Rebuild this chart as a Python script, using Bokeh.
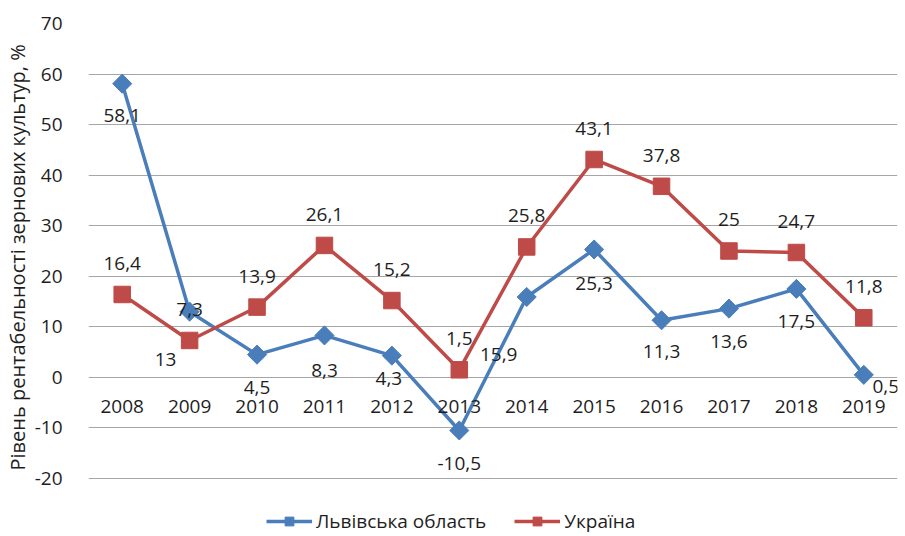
import numpy as np
from bokeh.plotting import figure
from bokeh.models import (ColumnDataSource, Legend, LegendItem, FixedTicker,
                          LabelSet, Range1d, Title)
from bokeh.core.properties import value
from bokeh.embed import file_html
from bokeh.resources import INLINE

years = ["2008", "2009", "2010", "2011", "2012", "2013",
         "2014", "2015", "2016", "2017", "2018", "2019"]
lviv = [58.1, 13, 4.5, 8.3, 4.3, -10.5, 15.9, 25.3, 11.3, 13.6, 17.5, 0.5]
ukraine = [16.4, 7.3, 13.9, 26.1, 15.2, 1.5, 25.8, 43.1, 37.8, 25, 24.7, 11.8]
y_ticks = [-20, -10, 0, 10, 20, 30, 40, 50, 60, 70]
series_names = ["Львівська область", "Україна"]
y_title = "Рівень рентабельності зернових культур, %"

# label offsets (screen px), style only
lviv_dx = [0, -24, 0, 0, -3, 0, -28, 0, 0, 0, 0, 22]
lviv_dy = [-32, -48, -33, -35, -23, -33, -58, -34, -31, -33, -33, -12]
ukr_dx = [0] * 12
ukr_dy = [31] * 12

def fmt(v):
    return ("%g" % v).replace(".", ",")

BLUE = "#4A7EBB"
RED = "#BE4B48"
FONT = "Open Sans"
TXT = "#1e1e1e"

src_l = ColumnDataSource(dict(x=years, y=lviv, t=[fmt(v) for v in lviv],
                              dx=lviv_dx, dy=lviv_dy))
src_u = ColumnDataSource(dict(x=years, y=ukraine, t=[fmt(v) for v in ukraine],
                              dx=ukr_dx, dy=ukr_dy))

# frame extends below -20 to host the legend; scale kept at ~5.06 px/unit
p = figure(x_range=years, y_range=Range1d(-31.08, y_ticks[-1]),
           width=905, height=534, output_backend="svg", toolbar_location=None,
           min_border_top=23, min_border_right=8, min_border_left=88,
           min_border_bottom=0)
p.outline_line_color = None
p.background_fill_color = "white"
p.border_fill_color = "white"

p.xgrid.grid_line_color = None
p.ygrid.grid_line_color = "#a6a6a6"
p.ygrid.grid_line_width = 1
p.ygrid.ticker = FixedTicker(ticks=y_ticks)

p.yaxis.ticker = FixedTicker(ticks=y_ticks)
p.yaxis.major_label_overrides = {t: str(t) for t in y_ticks}
p.yaxis.axis_line_color = None
p.yaxis.major_tick_line_color = None
p.yaxis.minor_tick_line_color = None
p.yaxis.major_label_standoff = 20
p.yaxis.major_label_text_font = FONT
p.yaxis.major_label_text_font_size = "19px"
p.yaxis.major_label_text_color = TXT

p.add_layout(Title(text=y_title, align="left", offset=64,
                   vertical_align="middle", text_font=FONT,
                   text_font_size="20px", text_font_style="normal",
                   text_color=TXT, standoff=0), "left")

p.xaxis.fixed_location = 0
p.xaxis.axis_line_color = None
p.xaxis.major_tick_line_color = None
p.xaxis.minor_tick_line_color = None
p.xaxis.major_label_standoff = 17
p.xaxis.major_label_text_font = FONT
p.xaxis.major_label_text_font_size = "19px"
p.xaxis.major_label_text_color = TXT

lb = p.line("x", "y", source=src_l, line_color=BLUE, line_width=3.5)
sb = p.scatter("x", "y", source=src_l, marker="square", angle=np.pi / 4,
               size=13.5, fill_color=BLUE, line_color=BLUE)
lu = p.line("x", "y", source=src_u, line_color=RED, line_width=3.5)
su = p.scatter("x", "y", source=src_u, marker="square", size=16.5,
               fill_color=RED, line_color=RED)

for src in (src_l, src_u):
    p.add_layout(LabelSet(x="x", y="y", text="t", source=src,
                          x_offset="dx", y_offset="dy",
                          text_align="center", text_baseline="middle",
                          text_font=value(FONT), text_font_size="19px",
                          text_color=TXT))

legend = Legend(items=[LegendItem(label=series_names[0], renderers=[lb, sb]),
                       LegendItem(label=series_names[1], renderers=[lu, su])],
                orientation="horizontal", location=(178, 0),
                label_text_font=FONT, label_text_font_size="19px",
                label_text_color=TXT, glyph_width=46, glyph_height=22,
                label_height=22, label_standoff=4, spacing=28, padding=0,
                margin=0, border_line_color=None, background_fill_alpha=0)
p.add_layout(legend, "center")

open("out.html", "w").write(file_html(p, INLINE))
